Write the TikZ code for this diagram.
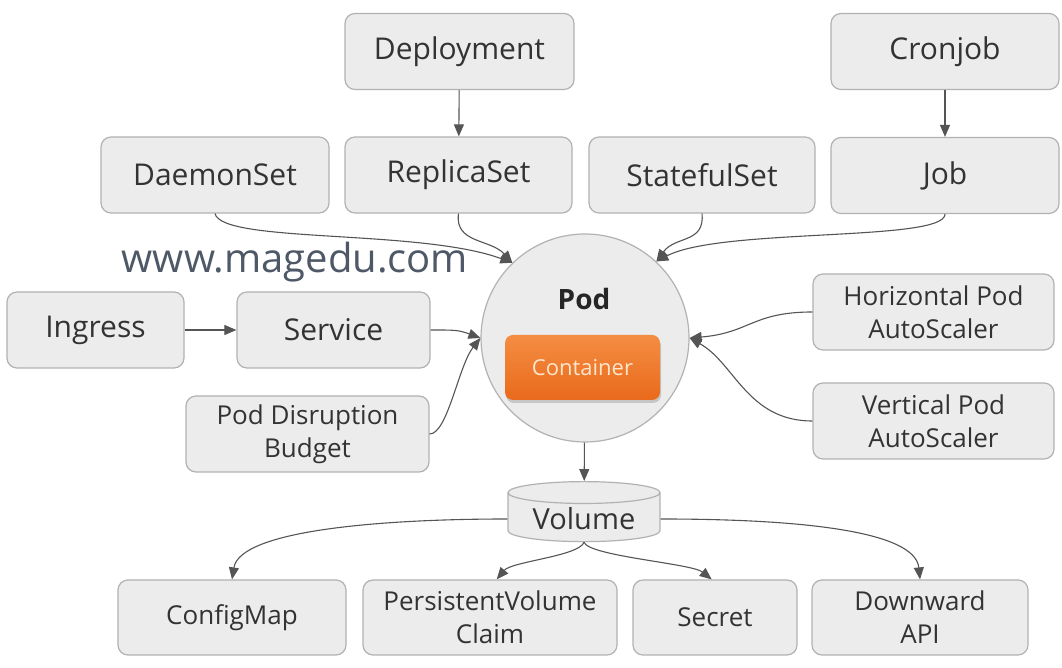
\documentclass[tikz,border=0pt]{standalone}
\usepackage{fontspec}
\setmainfont{Open Sans}
\usetikzlibrary{arrows.meta,shapes.geometric,shadows,positioning}
\definecolor{boxfill}{HTML}{ECECEC}
\definecolor{boxline}{HTML}{B2B2B2}
\definecolor{textgray}{HTML}{333333}
\definecolor{linegray}{HTML}{555555}
\definecolor{orangetop}{HTML}{F48D42}
\definecolor{orangebot}{HTML}{E96A1C}
\definecolor{orangetext}{HTML}{FDE6CC}
\definecolor{marktext}{HTML}{4F5866}
\tikzset{%
	object/.style    = {draw=boxline, fill=boxfill, rounded corners=10pt, line width=1.2pt, text=textgray, minimum height=76pt, align=center, font=\fontsize{30}{36}\selectfont},
	twoline/.style   = {font=\fontsize{26}{33}\selectfont},
	podcircle/.style = {draw=boxline, fill=boxfill, circle, line width=1.2pt, minimum size=208pt},
	container/.style = {rounded corners=8pt, top color=orangetop, bottom color=orangebot, minimum width=155pt, minimum height=65pt, text=orangetext, font=\fontsize{22}{26}\selectfont, drop shadow={opacity=0.35, shadow xshift=1pt, shadow yshift=-3pt}},
	volume/.style    = {draw=boxline, fill=boxfill, cylinder, shape border rotate=90, aspect=0.2, line width=1.2pt, minimum width=152pt, minimum height=60pt, text=textgray, font=\fontsize{29}{34}\selectfont},
	arrow/.style     = {draw=linegray, line width=1.1pt, -{Triangle[length=12pt,width=10pt]}},
}

\begin{document}
\begin{tikzpicture}[x=1pt,y=1pt]
	\path[fill=white,use as bounding box] (0,0) rectangle (1062,668);

	% controllers
	\node[object, minimum width=229pt] (deployment)  at (459.5,616.5) {Deployment};
	\node[object, minimum width=228pt] (cronjob)     at (945,616.5) {Cronjob};
	\node[object, minimum width=228pt] (daemonset)   at (215,493) {DaemonSet};
	\node[object, minimum width=227pt] (replicaset)  at (458.5,493) {ReplicaSet};
	\node[object, minimum width=226pt] (statefulset) at (702,493) {StatefulSet};
	\node[object, minimum width=228pt] (job)         at (945,492.5) {Job};

	\node[text=marktext, font=\fontsize{40}{44}\selectfont, anchor=base] (mark) at (295,395) {www.magedu.com};

	% pod
	\node[podcircle] (pod) at (585,330) {};
	\node[font=\fontsize{28}{32}\selectfont\bfseries, text=black!85] (podlabel) at (584,369) {Pod};
	\node[container] (container) at (582.5,300.5) {Container};

	% left and right
	\node[object, minimum width=177pt] (ingress) at (95.5,338) {Ingress};
	\node[object, minimum width=193pt] (service) at (333.5,338) {Service};
	\node[object, twoline, minimum width=243pt] (pdb) at (307.5,234) {Pod Disruption\\Budget};
	\node[object, twoline, minimum width=241pt] (hpa) at (933.5,356) {Horizontal Pod\\AutoScaler};
	\node[object, twoline, minimum width=241pt] (vpa) at (933.5,247) {Vertical Pod\\AutoScaler};

	% volume
	\node[volume] (volume) at (584,149) {Volume};
	\node[object, twoline, minimum height=75pt, minimum width=228pt] (configmap) at (232,50.5) {ConfigMap};
	\node[object, twoline, minimum height=75pt, minimum width=254pt] (pvc)       at (490,50.5) {PersistentVolume\\Claim};
	\node[object, twoline, minimum height=75pt, minimum width=164pt] (secret)    at (715,50.5) {Secret};
	\node[object, twoline, minimum height=75pt, minimum width=216pt] (downward)  at (920,50.5) {Downward\\API};

	\draw[arrow] (deployment) -- (replicaset);
	\draw[arrow] (cronjob) -- (job);
	\draw[arrow] (daemonset.south) .. controls +(7,-30) and +(-92,34) .. (pod.134);
	\draw[arrow] (replicaset.south) .. controls +(-4,-30) and +(-22,24) .. (pod.134);
	\draw[arrow] (statefulset.south) .. controls +(3,-30) and +(19,26) .. (pod.47);
	\draw[arrow] (job.south) .. controls +(0,-28) and +(64,34) .. (pod.47);

	\draw[arrow] (ingress) -- (service);
	\draw[arrow] (service.east) .. controls +(25,0) and +(-22,8) .. (pod.180);
	\draw[arrow] (pdb.east) .. controls +(18,0) and +(-22,-28) .. (pod.180);
	\draw[arrow] (hpa.west) .. controls +(-60,0) and +(60,5) .. (pod.0);
	\draw[arrow] (vpa.west) .. controls +(-65,0) and +(45,-25) .. (pod.0);

	\draw[arrow] (pod) -- (volume);
	\draw[arrow] (volume.west) .. controls +(-120,0) and +(8,50) .. (configmap.north);
	\draw[arrow] (volume.east) .. controls +(130,0) and +(-5,50) .. (downward.north);
	\draw[arrow] (volume.south) .. controls +(-5,-14) and +(15,18) .. (pvc.80);
	\draw[arrow] (volume.south) .. controls +(5,-14) and +(-20,16) .. (secret.95);
\end{tikzpicture}
\end{document}
